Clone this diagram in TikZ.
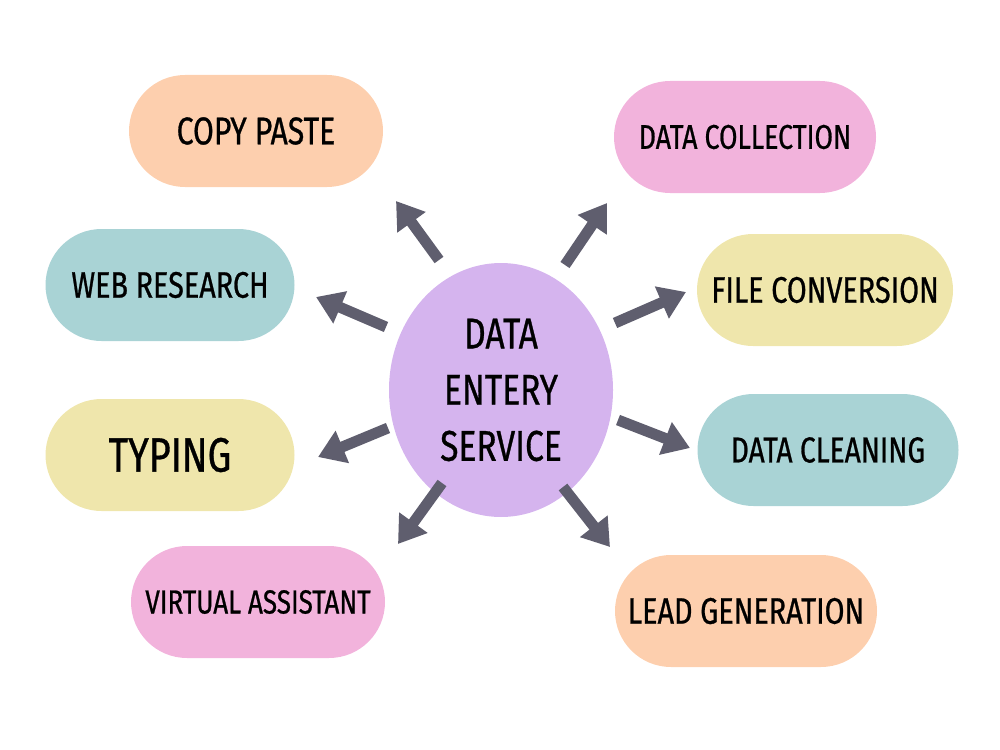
\documentclass[tikz,border=0pt]{standalone}
\usepackage{fontspec}
\setmainfont{Fira Sans}[FakeStretch=0.78, FakeBold=0.7]
\usetikzlibrary{arrows.meta,shapes.geometric,shapes.misc}
\definecolor{peach}{HTML}{FDCFAE}
\definecolor{pinkc}{HTML}{F2B3DC}
\definecolor{tealc}{HTML}{A9D3D5}
\definecolor{yellowc}{HTML}{EFE6AC}
\definecolor{lav}{HTML}{D5B4EE}
\definecolor{arr}{HTML}{5F5E6E}
\tikzset{
  pill/.style={rounded rectangle, minimum width=254*0.02cm, minimum height=112*0.02cm, inner sep=0pt, text=black},
  hub/.style={ellipse, fill=lav, minimum width=224*0.02cm, minimum height=254*0.02cm, inner sep=0pt, align=center},
  spoke/.style={draw=arr, line width=6.2pt, -{Triangle[length=15pt,width=19pt]}}
}
\begin{document}
\begin{tikzpicture}[x=0.02cm,y=-0.02cm]
\useasboundingbox (0,0) rectangle (1000,750);
\node[hub, font=\fontsize{24.5}{32}\selectfont] (c) at (501,390) {DATA\\ENTERY\\SERVICE};
\node[pill, fill=peach, font=\fontsize{22}{24}\selectfont] (cp) at (256,131) {COPY PASTE};
\node[pill, fill=pinkc, minimum width=262*0.02cm, font=\fontsize{19.5}{21}\selectfont] (dc) at (745,137) {DATA COLLECTION};
\node[pill, fill=tealc, minimum width=249*0.02cm, font=\fontsize{21}{23}\selectfont] (wr) at (170,285) {WEB RESEARCH};
\node[pill, fill=yellowc, minimum width=256*0.02cm, font=\fontsize{21}{23}\selectfont] (fc) at (825,290) {FILE CONVERSION};
\node[pill, fill=yellowc, minimum width=249*0.02cm, font=\fontsize{27.5}{29}\selectfont] (ty) at (170,455) {TYPING};
\node[pill, fill=tealc, minimum width=261*0.02cm, font=\fontsize{20.5}{22}\selectfont] (cl) at (828,450) {DATA CLEANING};
\node[pill, fill=pinkc, font=\fontsize{19}{21}\selectfont] (va) at (258,602) {VIRTUAL ASSISTANT};
\node[pill, fill=peach, minimum width=262*0.02cm, font=\fontsize{21}{23}\selectfont] (lg) at (746,611) {LEAD GENERATION};
% arrow end points
\coordinate (t1) at (439,260); \coordinate (h1) at (396,201);
\coordinate (t2) at (565,265); \coordinate (h2) at (607,203);
\coordinate (t3) at (386,327); \coordinate (h3) at (316,297);
\coordinate (t4) at (615,323); \coordinate (h4) at (686,292);
\coordinate (t5) at (388,428); \coordinate (h5) at (318,457);
\coordinate (t6) at (618,420); \coordinate (h6) at (690,448);
\coordinate (t7) at (442,483); \coordinate (h7) at (398,544);
\coordinate (t8) at (563,487); \coordinate (h8) at (610,547);
\draw[spoke] (t1) -- (h1);
\draw[spoke] (t2) -- (h2);
\draw[spoke] (t3) -- (h3);
\draw[spoke] (t4) -- (h4);
\draw[spoke] (t5) -- (h5);
\draw[spoke] (t6) -- (h6);
\draw[spoke] (t7) -- (h7);
\draw[spoke] (t8) -- (h8);
\end{tikzpicture}
\end{document}
